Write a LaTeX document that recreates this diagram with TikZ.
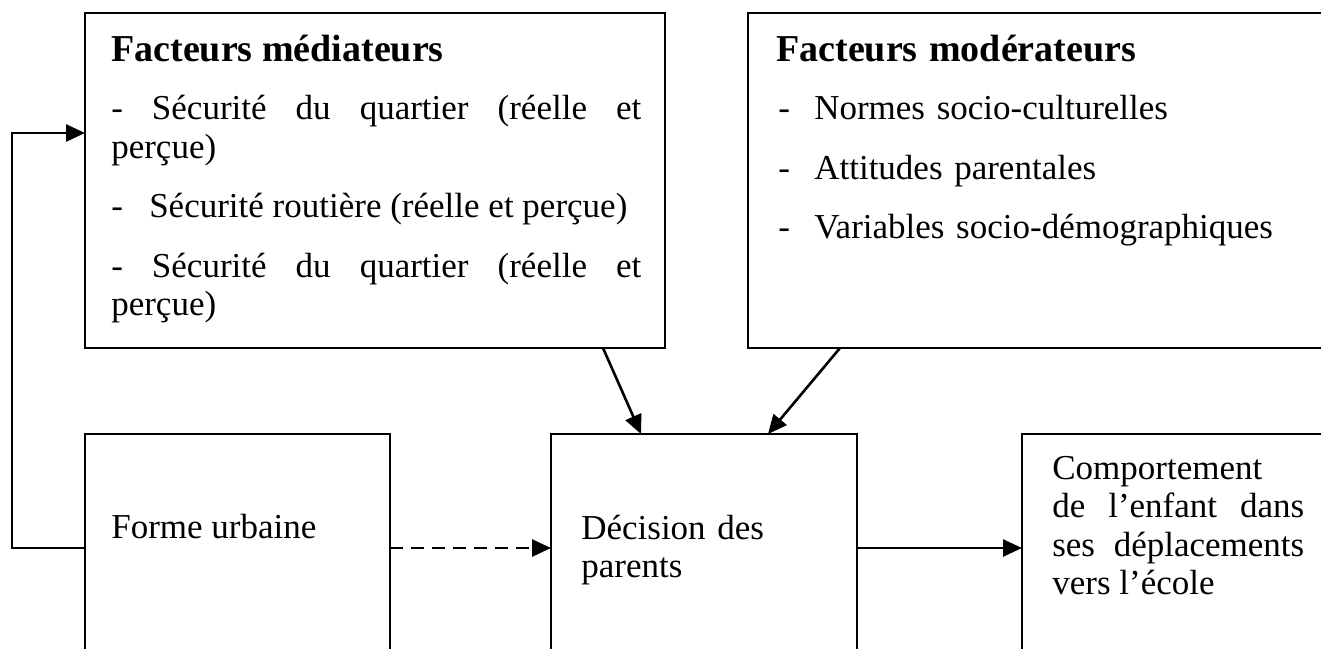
\documentclass[tikz,border=0pt]{standalone}
\usepackage{fontspec}
\setmainfont{Liberation Serif}
\usetikzlibrary{arrows.meta,calc,positioning}
\newcommand{\boxtitle}[1]{\textbf{\fontsize{38}{38.5}\selectfont #1}}
\begin{document}
\begin{tikzpicture}[x=1pt,y=-1pt,line width=2.6pt,
    box/.style={draw,rectangle,anchor=north west,inner sep=0pt,outer sep=0pt},
    txt/.style={anchor=north west,inner sep=0pt,font=\fontsize{35}{38.5}\selectfont},
    arr/.style={-{Triangle[length=19pt,width=17pt]}}]
  \useasboundingbox (0,0) rectangle (1321,648);
  \clip (0,0) rectangle (1321,648);
  \node[box,minimum width=580pt,minimum height=335pt] (med) at (85,13) {};
  \node[box,minimum width=600pt,minimum height=335pt] (mod) at (748,13) {};
  \node[box,minimum width=305pt,minimum height=228pt] (forme) at (85,434) {};
  \node[box,minimum width=306pt,minimum height=228pt] (dec) at (551,434) {};
  \node[box,minimum width=330pt,minimum height=228pt] (comp) at (1022,434) {};
  \node[txt,text width=530pt,align=justify] (medtxt) at ([shift={(25,20)}]med.north west)
    {\strut\boxtitle{Facteurs médiateurs}\par\vspace{20pt}
     - Sécurité du quartier (réelle et\linebreak perçue)\par\vspace{21pt}
     \makebox[38pt][l]{-}Sécurité routière (réelle et perçue)\par\vspace{21pt}
     - Sécurité du quartier (réelle et\linebreak perçue)};
  \node[txt,text width=540pt,align=left] (modtxt) at ([shift={(27,20)}]mod.north west)
    {\strut\boxtitle{Facteurs modérateurs}\par\vspace{20pt}
     \makebox[38pt][l]{\hspace{2pt}-}Normes socio-culturelles\par\vspace{21pt}
     \makebox[38pt][l]{\hspace{2pt}-}Attitudes parentales\par\vspace{21pt}
     \makebox[38pt][l]{\hspace{2pt}-}Variables socio-démographiques};
  \node[txt,anchor=base west] (formetxt) at ([shift={(25,-10)}]forme.west) {Forme urbaine};
  \node[txt,text width=260pt,align=left] (dectxt) at ([shift={(29,77)}]dec.north west)
    {\strut Décision des\\parents};
  \node[txt,text width=252pt,align=justify] (comptxt) at ([shift={(29,17)}]comp.north west)
    {\strut Comportement\linebreak de l’enfant dans\linebreak ses déplacements\linebreak vers l’école};
  \draw[arr] ($(med.south east)+(-62,0)$) -- ($(dec.north)+(-63,0)$);
  \draw[arr] ($(mod.south west)+(92,0)$) -- ($(dec.north)+(64,0)$);
  \draw[arr,dash pattern=on 13pt off 8pt] (forme.east) -- (dec.west);
  \draw[arr] (dec.east) -- (comp.west);
  \draw[arr] (forme.west) -- ++(-73,0) |- ($(med.north west)+(0,120)$);
\end{tikzpicture}
\end{document}
